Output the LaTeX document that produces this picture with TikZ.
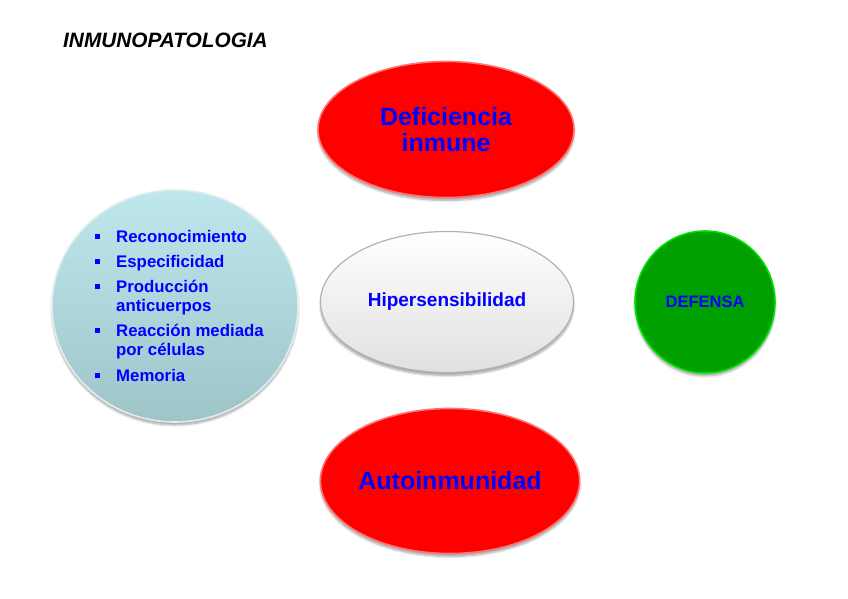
\documentclass[tikz,border=0pt]{standalone}
\usepackage{fontspec}
\setmainfont{Liberation Sans}
\usepackage{xcolor}
\definecolor{inmred}{RGB}{255,0,0}
\definecolor{inmblue}{RGB}{0,0,255}
\definecolor{inmgreen}{RGB}{0,160,0}
\definecolor{inmcyantop}{RGB}{190,232,238}
\definecolor{inmcyanbot}{RGB}{158,196,200}
\usetikzlibrary{positioning,shapes.geometric,shadows.blur}
\newcommand{\listbul}{\textcolor{inmblue}{\rule[3.5pt]{5pt}{5pt}}}
\tikzset{
  blob/.style    ={ellipse,inner sep=0pt,align=center,text=inmblue,font=\bfseries,
                   blur shadow={shadow xshift=0pt,shadow yshift=-3pt,shadow blur steps=6,shadow opacity=35}},
  redblob/.style ={blob,fill=inmred,draw=red!55!white,line width=1.6pt,
                   minimum width=256pt,minimum height=136pt},
  whiteblob/.style={blob,top color=white,bottom color=black!12,draw=black!30,line width=1.2pt,
                   minimum width=253pt,minimum height=141pt},
  listblob/.style={blob,top color=inmcyantop,bottom color=inmcyanbot,draw=white!70!inmcyanbot,line width=1.6pt,
                   minimum width=246pt,minimum height=232pt},
  greenblob/.style={blob,fill=inmgreen,draw=green!70!inmgreen,line width=1.6pt,
                   minimum width=140pt,minimum height=142pt},
}

\begin{document}
\begin{tikzpicture}[x=1pt,y=-1pt]
  \useasboundingbox (0,0) rectangle (848,599);
  \node[anchor=west,inner sep=0pt,font=\bfseries\itshape\fontsize{20.8}{24}\selectfont] (title) at (63,40) {INMUNOPATOLOGIA};
  \node[redblob,font=\bfseries\fontsize{25}{26}\selectfont] (defic) at (446,129.5) {Deficiencia\\inmune};
  \node[whiteblob,font=\bfseries\fontsize{19}{22}\selectfont] (hiper) at (447,302) {Hipersensibilidad};
  \node[redblob,minimum height=145pt,font=\bfseries\fontsize{25}{28}\selectfont] (autoinm) at (450,481) {Autoinmunidad};
  \node[greenblob,font=\bfseries\fontsize{16.5}{19}\selectfont] (defensa) at (705,302) {DEFENSA};
  \node[listblob] (memcirc) at (175,306) {};
  \node[anchor=base west,inner sep=0pt,text=inmblue,font=\bfseries\fontsize{16.8}{19}\selectfont] (props) at (95,242)
    {\begin{tabular}[t]{@{}l@{\hspace{16pt}}l@{}}
      \listbul & Reconocimiento\\[6pt]
      \listbul & Especificidad\\[6pt]
      \listbul & Producción\\
               & anticuerpos\\[6pt]
      \listbul & Reacción mediada\\
               & por células\\[7pt]
      \listbul & Memoria
    \end{tabular}};
\end{tikzpicture}
\end{document}
